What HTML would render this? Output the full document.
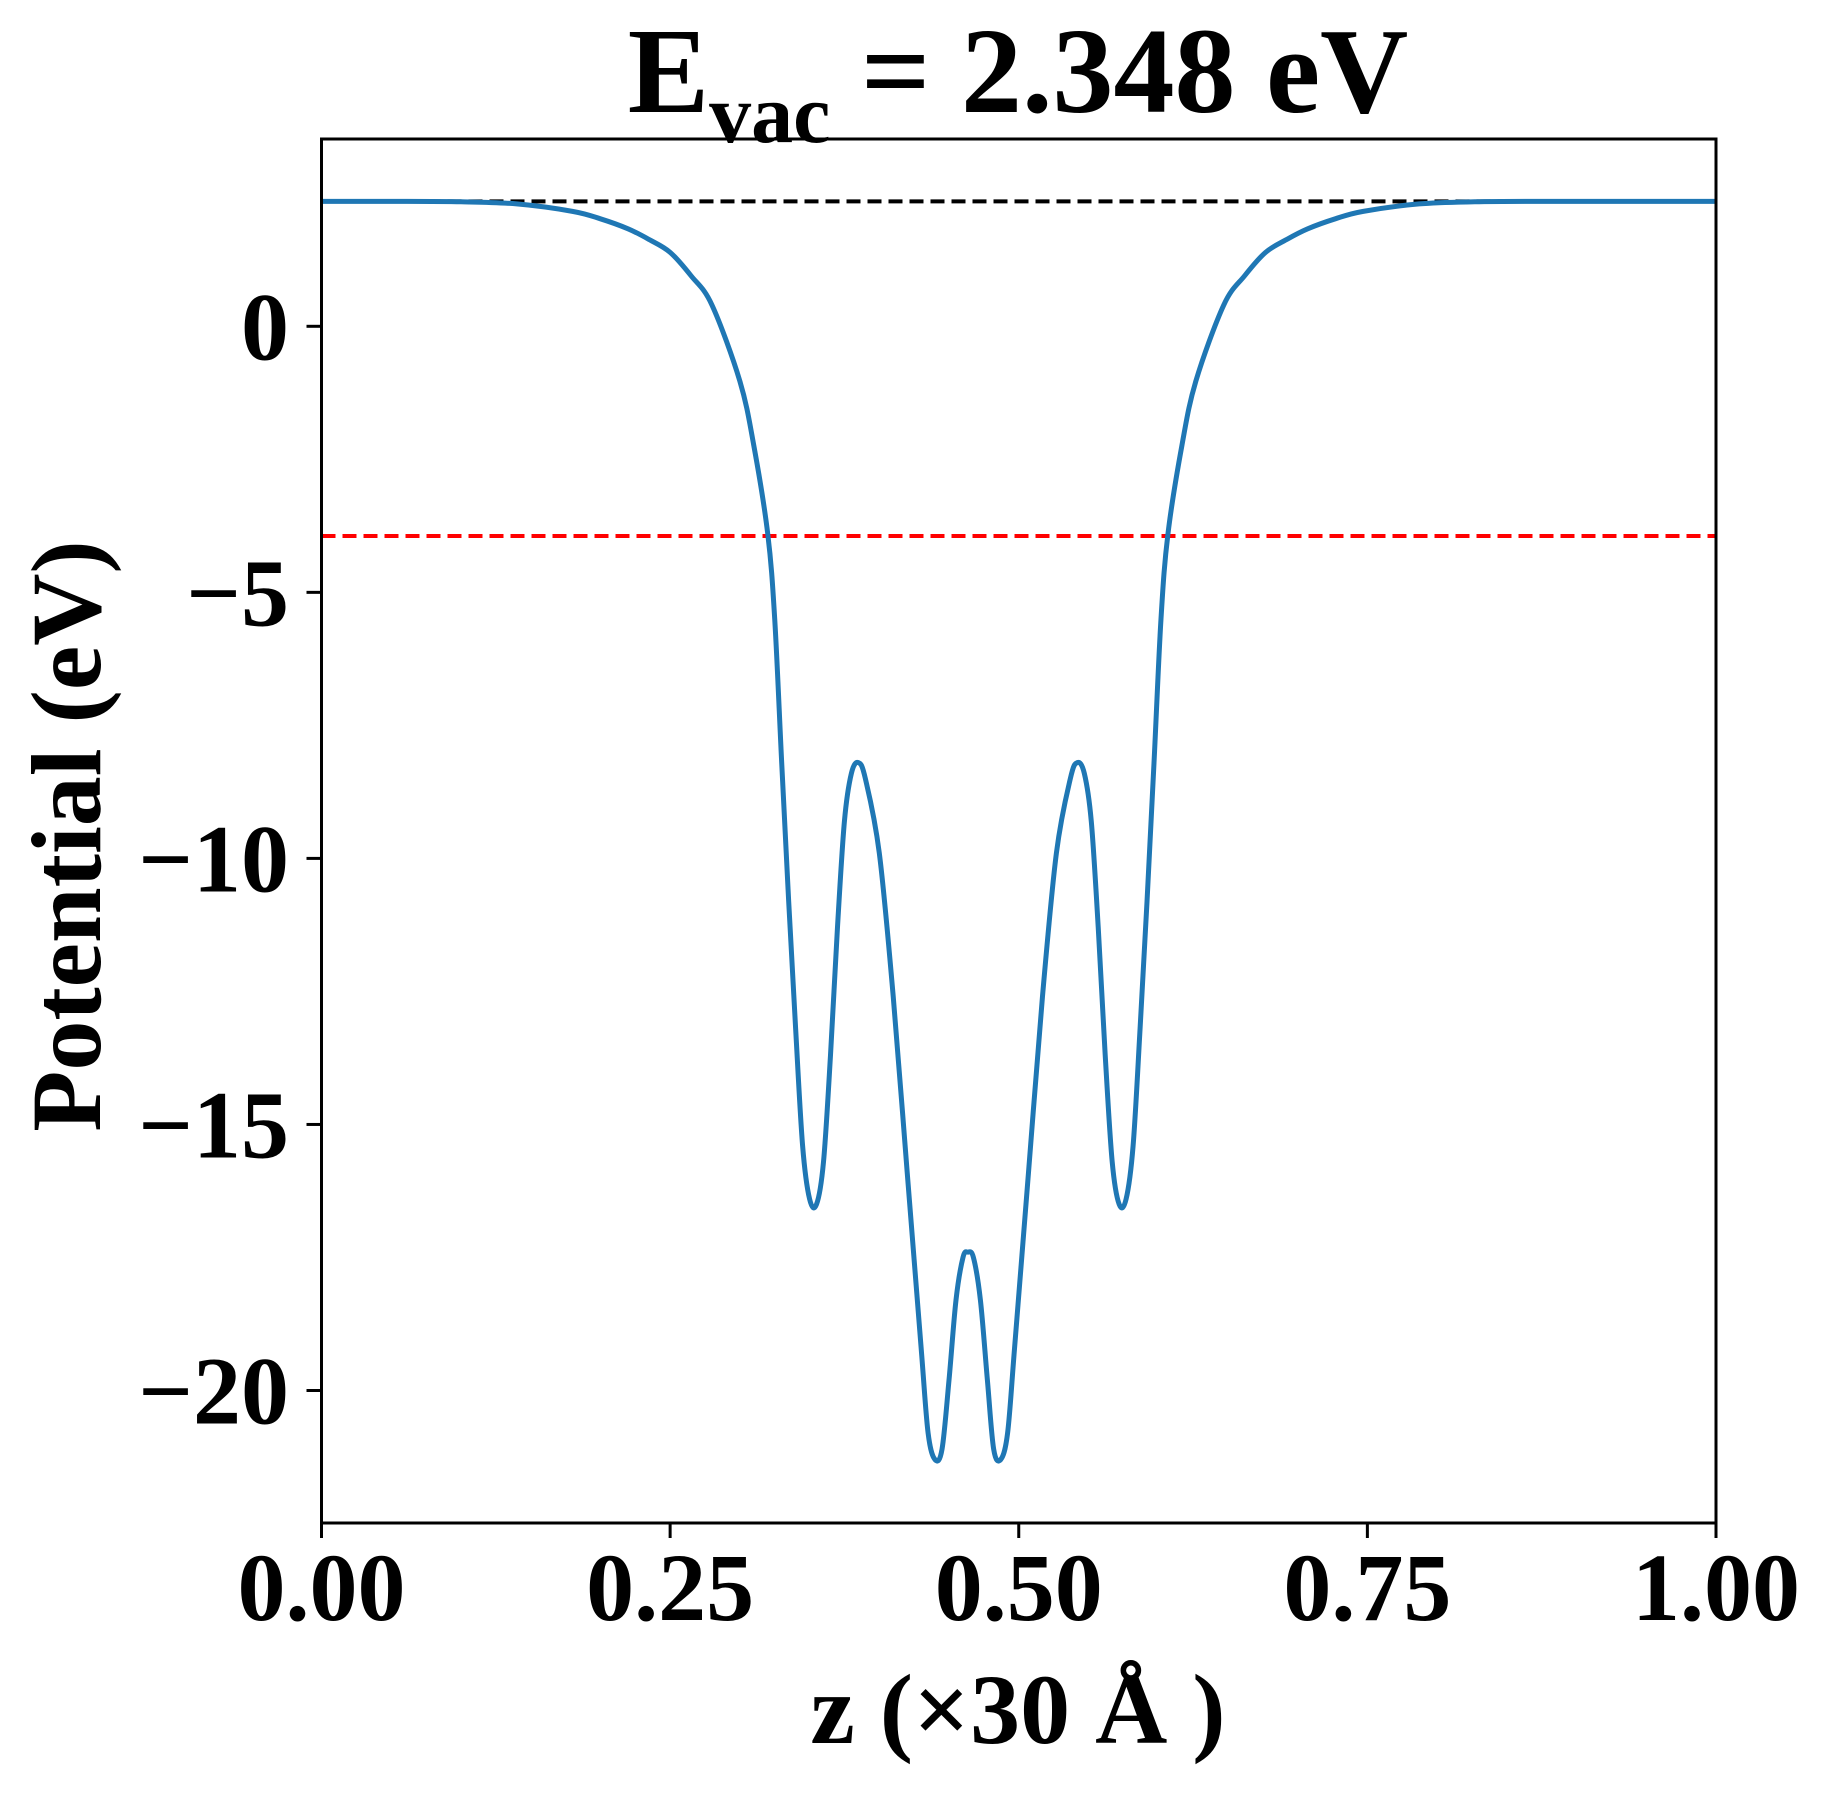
<!DOCTYPE html>
<html><head><meta charset="utf-8"><style>
html,body{margin:0;padding:0;background:#fff;}
svg{display:block;font-family:"Liberation Serif","DejaVu Serif",serif;font-weight:bold;}
</style></head><body>
<svg id="chart" width="1833" height="1794" viewBox="0 0 1833 1794" xmlns="http://www.w3.org/2000/svg">
<text x="1018" y="112" text-anchor="middle" font-size="122">E<tspan font-size="84" dy="30">vac</tspan><tspan dy="-30"> = 2.348 eV</tspan></text>
<g id="grid"></g>
<g id="marks"></g>
<rect x="321.5" y="139" width="1394.5" height="1384" fill="none" stroke="#000" stroke-width="3"/>
<g id="ticks"></g>
<text x="1018" y="1743" text-anchor="middle" font-size="100">z (×30 Å )</text>
<text transform="translate(100,836) rotate(-90)" text-anchor="middle" font-size="100">Potential (eV)</text>
</svg>
<script>
const zValues = [0,0.05,0.10,0.14,0.18,0.20,0.22,0.235,0.25,0.265,0.28,0.30,0.31,0.32,0.325,0.33,0.335,0.34,0.345,0.35,0.355,0.36,0.365,0.37,0.375,0.38,0.385,0.39,0.40,0.41,0.42,0.43,0.435,0.44,0.445,0.45,0.455,0.46,0.4635,0.4675,0.4725,0.4775,0.482,0.487,0.492,0.497,0.507,0.517,0.527,0.537,0.542,0.547,0.552,0.557,0.562,0.567,0.572,0.577,0.582,0.587,0.592,0.597,0.602,0.607,0.617,0.627,0.647,0.662,0.677,0.692,0.707,0.727,0.747,0.787,0.827,0.877,1.0];
const potValues = [2.348,2.348,2.34,2.30,2.16,2.02,1.83,1.63,1.39,0.95,0.40,-1.03,-2.24,-3.9,-5.5,-8.2,-10.8,-13.2,-15.4,-16.4,-16.5,-15.7,-13.7,-11.3,-9.3,-8.4,-8.2,-8.5,-9.9,-12.6,-15.9,-19.2,-20.8,-21.3,-21.1,-19.8,-18.3,-17.5,-17.4,-17.5,-18.3,-19.8,-21.1,-21.3,-20.8,-19.2,-15.9,-12.6,-9.9,-8.5,-8.2,-8.4,-9.3,-11.3,-13.7,-15.7,-16.5,-16.4,-15.4,-13.2,-10.8,-8.2,-5.5,-3.9,-2.24,-1.03,0.40,0.95,1.39,1.63,1.83,2.02,2.16,2.30,2.34,2.348,2.348];
const vacuumLevel = [2.348];
const fermiLevel = [-3.94];
const xTicks = [0,0.25,0.5,0.75,1.0];
const xTickLabels = ["0.00","0.25","0.50","0.75","1.00"];
const yTicks = [0,-5,-10,-15,-20];
const yTickLabels = ["0","\u22125","\u221210","\u221215","\u221220"];

const L=321.5,R=1716,T=139,B=1523;
const xMin=0,xMax=1,yMin=-22.49,yMax=3.52;
const X=v=>L+(v-xMin)/(xMax-xMin)*(R-L);
const Y=v=>B-(v-yMin)/(yMax-yMin)*(B-T);
const NS="http://www.w3.org/2000/svg";
const marks=document.getElementById('marks'), ticks=document.getElementById('ticks');
function mk(tag,attrs,parent){const e=document.createElementNS(NS,tag);for(const k in attrs)e.setAttribute(k,attrs[k]);parent.appendChild(e);return e;}

const vac=mk('line',{x1:X(0),x2:X(1),y1:Y(vacuumLevel[0]),y2:Y(vacuumLevel[0]),stroke:'#000','stroke-width':4,'stroke-dasharray':'14 7'},marks);


const fer=mk('line',{x1:X(0),x2:X(1),y1:Y(fermiLevel[0]),y2:Y(fermiLevel[0]),stroke:'#ff0000','stroke-width':4,'stroke-dasharray':'14 7'},marks);



const P=zValues.map((z,i)=>[X(z),Y(potValues[i])]);
let d='M'+P[0][0]+','+P[0][1];
for(let i=0;i<P.length-1;i++){
  const p0=P[Math.max(0,i-1)],p1=P[i],p2=P[i+1],p3=P[Math.min(P.length-1,i+2)];
  const c1=[p1[0]+(p2[0]-p0[0])/6,p1[1]+(p2[1]-p0[1])/6];
  const c2=[p2[0]-(p3[0]-p1[0])/6,p2[1]-(p3[1]-p1[1])/6];
  d+=' C'+c1[0]+','+c1[1]+' '+c2[0]+','+c2[1]+' '+p2[0]+','+p2[1];
}
const curve=mk('path',{d:d,fill:'none',stroke:'#1f77b4','stroke-width':5,'stroke-linejoin':'round'},marks);



xTicks.forEach((v,i)=>{
  const t=mk('line',{x1:X(v),x2:X(v),y1:B,y2:B+15,stroke:'#000','stroke-width':3},ticks);
  
  
  const l=mk('text',{x:X(v),y:1620,'text-anchor':'middle','font-size':96},ticks);
  l.textContent=xTickLabels[i];
  
  
});
yTicks.forEach((v,i)=>{
  const t=mk('line',{x1:L-15,x2:L,y1:Y(v),y2:Y(v),stroke:'#000','stroke-width':3},ticks);
  
  
  const l=mk('text',{x:289,y:Y(v)+33,'text-anchor':'end','font-size':96},ticks);
  l.textContent=yTickLabels[i];
  
  
});
</script>
</body></html>
